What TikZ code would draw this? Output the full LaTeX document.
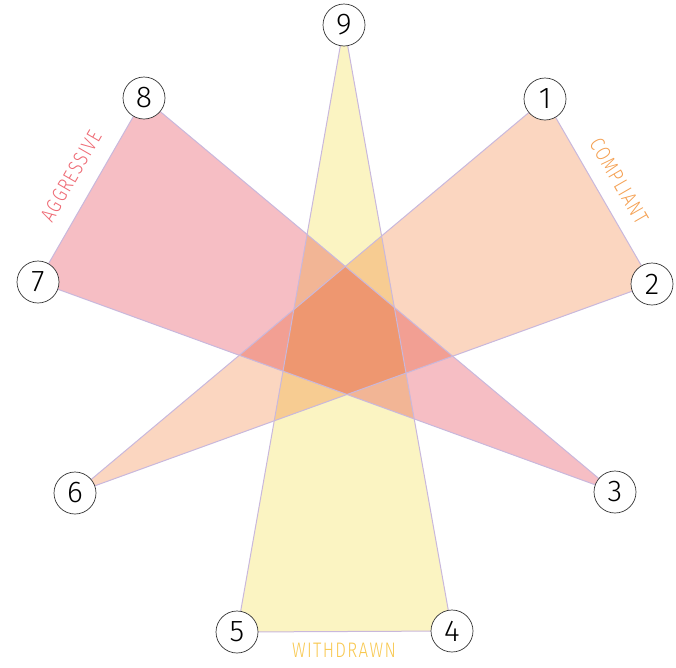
\documentclass[tikz,border=0pt]{standalone}
\usepackage{fontspec}
\setsansfont{Fira Sans}[UprightFont=* Light]
\usetikzlibrary{calc}
\definecolor{pinkf}{HTML}{F6BEC4}
\definecolor{orangef}{HTML}{FBD6C0}
\definecolor{yellowf}{HTML}{FBF4C2}
\definecolor{edgec}{HTML}{C9B8DC}
\definecolor{aggc}{HTML}{EE6A74}
\definecolor{compc}{HTML}{F4A052}
\definecolor{withc}{HTML}{F8C850}
\tikzset{
  num/.style={circle, draw=black!80, line width=0.7pt, fill=white, minimum size=42pt, inner sep=0pt, font=\sffamily\fontsize{30}{30}\selectfont},
  lab/.style={font=\sffamily\fontsize{21}{21}\selectfont\addfontfeatures{LetterSpace=8}, inner sep=0pt},
  edge/.style={edgec, line width=1pt, line join=round}
}
\begin{document}
\begin{tikzpicture}[x=1pt,y=-1pt]
\useasboundingbox (0,0) rectangle (676,667);
\coordinate (c9) at (344,25);
\coordinate (c1) at (545,99);
\coordinate (c2) at (652,284);
\coordinate (c3) at (615,492);
\coordinate (c4) at (452,631);
\coordinate (c5) at (237,632);
\coordinate (c6) at (75,493);
\coordinate (c7) at (38,282);
\coordinate (c8) at (144,98);
\begin{scope}[transparency group]
\fill[yellowf, blend mode=multiply] (c9) -- (c5) -- (c4) -- cycle;
\fill[pinkf, blend mode=multiply] (c8) -- (c7) -- (c3) -- cycle;
\fill[orangef, blend mode=multiply] (c1) -- (c2) -- (c6) -- cycle;
\end{scope}
\draw[edge] (c9) -- (c5) -- (c4) -- cycle;
\draw[edge] (c8) -- (c7) -- (c3) -- cycle;
\draw[edge] (c1) -- (c2) -- (c6) -- cycle;
\node[num] (n9) at (c9) {9};
\node[num] (n1) at (c1) {1};
\node[num] (n2) at (c2) {2};
\node[num] (n3) at (c3) {3};
\node[num] (n4) at (c4) {4};
\node[num] (n5) at (c5) {5};
\node[num] (n6) at (c6) {6};
\node[num] (n7) at (c7) {7};
\node[num] (n8) at (c8) {8};
\node[lab, text=aggc, rotate=60, xscale=0.8] (agg) at (71,176) {AGGRESSIVE};
\node[lab, text=compc, rotate=-60, xscale=0.8] (comp) at (619,181) {COMPLIANT};
\node[lab, text=withc, xscale=0.8] (with) at (344,650) {WITHDRAWN};
\end{tikzpicture}
\end{document}
